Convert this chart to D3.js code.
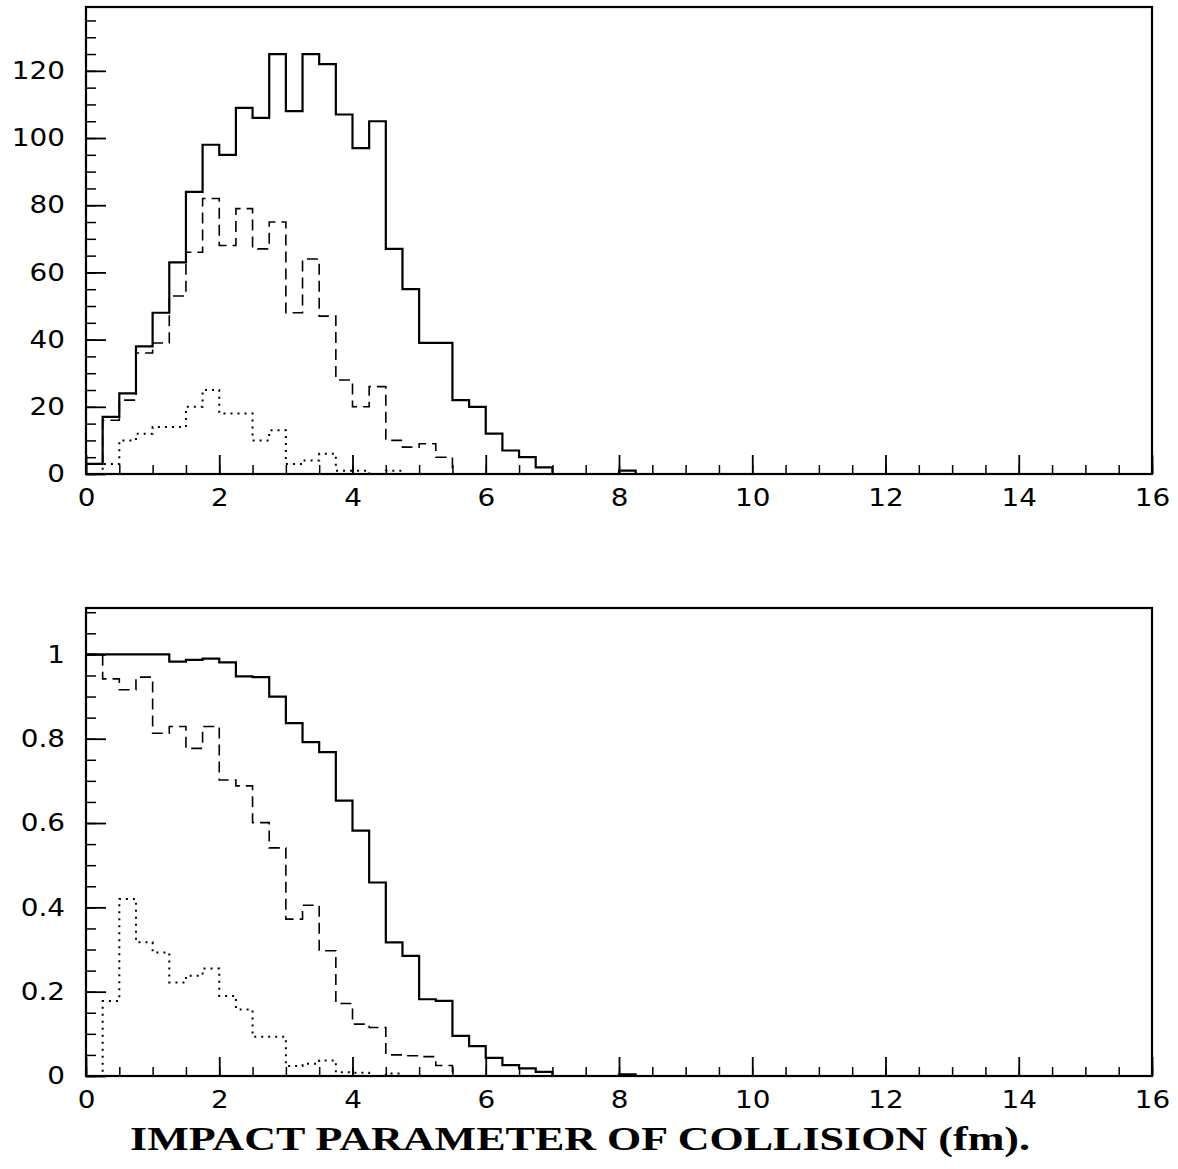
<!DOCTYPE html>
<html>
<head>
<meta charset="utf-8">
<script src="https://cdn.jsdelivr.net/npm/d3@7"></script>
<style>
  body { margin: 0; background: #fff; }
  svg { display: block; }
  .tick text { font-family: "DejaVu Sans", "Liberation Sans", sans-serif; font-size: 24px; fill: #000; }
</style>
</head>
<body>
<div id="chart"></div>
<script>
// histogram bins: 64 bins of 0.25 fm from 0 to 16
const binWidth = 0.25;

// top panel (counts)
const topSolid = [3, 17, 24, 38, 48, 63, 84, 98, 95, 109, 106, 125, 108, 125, 122, 107,
    97, 105, 67, 55, 39, 39, 22, 20, 12, 7, 5, 2, 0, 0, 0, 0,
    1, 0, 0, 0, 0, 0, 0, 0, 0, 0, 0, 0, 0, 0, 0, 0,
    0, 0, 0, 0, 0, 0, 0, 0, 0, 0, 0, 0, 0, 0, 0, 0];
const topDashed = [3, 16, 22, 36, 39, 53, 66, 82, 68, 79, 67, 75, 48, 64, 47, 28,
    20, 26, 10, 8, 9, 5, 0, 0, 0, 0, 0, 0, 0, 0, 0, 0,
    0, 0, 0, 0, 0, 0, 0, 0, 0, 0, 0, 0, 0, 0, 0, 0,
    0, 0, 0, 0, 0, 0, 0, 0, 0, 0, 0, 0, 0, 0, 0, 0];
const topDotted = [0, 3, 10, 12, 14, 14, 20, 25, 18, 18, 10, 13, 3, 4, 6, 1,
    1, 0, 1, 0, 0, 0, 0, 0, 0, 0, 0, 0, 0, 0, 0, 0,
    0, 0, 0, 0, 0, 0, 0, 0, 0, 0, 0, 0, 0, 0, 0, 0,
    0, 0, 0, 0, 0, 0, 0, 0, 0, 0, 0, 0, 0, 0, 0, 0];

// bottom panel (fractions)
const botSolid = [1, 1, 1, 1, 1, 0.983, 0.987, 0.99, 0.981, 0.948, 0.946, 0.90, 0.837, 0.792, 0.768, 0.653,
    0.582, 0.459, 0.317, 0.285, 0.182, 0.178, 0.095, 0.071, 0.043, 0.026, 0.018, 0.010, 0, 0, 0, 0,
    0.004, 0, 0, 0, 0, 0, 0, 0, 0, 0, 0, 0, 0, 0, 0, 0,
    0, 0, 0, 0, 0, 0, 0, 0, 0, 0, 0, 0, 0, 0, 0, 0];
const botDashed = [1, 0.942, 0.916, 0.946, 0.813, 0.829, 0.777, 0.829, 0.702, 0.688, 0.601, 0.541, 0.372, 0.405, 0.297, 0.172,
    0.123, 0.115, 0.050, 0.048, 0.046, 0.025, 0, 0, 0, 0, 0, 0, 0, 0, 0, 0,
    0, 0, 0, 0, 0, 0, 0, 0, 0, 0, 0, 0, 0, 0, 0, 0,
    0, 0, 0, 0, 0, 0, 0, 0, 0, 0, 0, 0, 0, 0, 0, 0];
const botDotted = [0, 0.178, 0.42, 0.317, 0.293, 0.222, 0.238, 0.255, 0.19, 0.158, 0.093, 0.093, 0.024, 0.029, 0.037, 0.009,
    0.008, 0, 0.006, 0, 0, 0, 0, 0, 0, 0, 0, 0, 0, 0, 0, 0,
    0, 0, 0, 0, 0, 0, 0, 0, 0, 0, 0, 0, 0, 0, 0, 0,
    0, 0, 0, 0, 0, 0, 0, 0, 0, 0, 0, 0, 0, 0, 0, 0];

const xTicks = [0, 2, 4, 6, 8, 10, 12, 14, 16];
const topYTicks = [0, 20, 40, 60, 80, 100, 120];
const botYTicks = [0, 0.2, 0.4, 0.6, 0.8, 1];
const xTitle = "IMPACT PARAMETER OF COLLISION (fm).";

const W = 1178, H = 1169;
const stretch = 1.16; // tick labels are drawn wide in the original

const svg = d3.select("#chart").append("svg")
    .attr("width", W)
    .attr("height", H);
svg.append("rect").attr("width", W).attr("height", H).attr("fill", "#fff");

const x = d3.scaleLinear().domain([0, 16]).range([86, 1152]);

const styles = {
    solid: { width: 2.2, dash: null },
    dashed: { width: 1.6, dash: "11,6" },
    dotted: { width: 2, dash: "2,5" }
};

function drawPanel(y, yTicks, yMinorStep, fmt, series) {
    const [y0, y1] = y.range();
    const g = svg.append("g");

    // minor ticks (inside the frame)
    const xMinor = d3.range(0, 16.001, 0.5);
    g.append("g")
        .attr("transform", `translate(0,${y0})`)
        .call(d3.axisBottom(x).tickValues(xMinor).tickSize(-9).tickFormat(""))
        .call(a => a.select(".domain").remove())
        .selectAll("line").attr("stroke-width", 1.5);

    const yMinor = d3.range(0, y.domain()[1] - 1e-9, yMinorStep);
    g.append("g")
        .attr("transform", `translate(${x.range()[0]},0)`)
        .call(d3.axisLeft(y).tickValues(yMinor).tickSize(-10).tickFormat(""))
        .call(a => a.select(".domain").remove())
        .selectAll("line").attr("stroke-width", 1.5);

    // major ticks with labels
    const xAx = g.append("g")
        .attr("transform", `translate(0,${y0})`)
        .call(d3.axisBottom(x).tickValues(xTicks).tickSize(-19).tickPadding(15).tickFormat(d3.format("d")))
        .call(a => a.select(".domain").remove());
    xAx.selectAll("line").attr("stroke-width", 1.8);
    xAx.selectAll("text").attr("transform", `scale(${stretch},1)`);

    const yAx = g.append("g")
        .attr("transform", `translate(${x.range()[0]},0)`)
        .call(d3.axisLeft(y).tickValues(yTicks).tickSize(-20).tickPadding(21).tickFormat(fmt))
        .call(a => a.select(".domain").remove());
    yAx.selectAll("line").attr("stroke-width", 1.8);
    yAx.selectAll("text")
        .attr("x", -21 / stretch)
        .attr("transform", `scale(${stretch},1)`);

    // histograms
    const line = d3.line()
        .x(d => x(d[0]))
        .y(d => y(d[1]))
        .curve(d3.curveStepAfter);

    series.forEach(s => {
        const pts = s.values.map((v, i) => [i * binWidth, v]);
        pts.push([s.values.length * binWidth, s.values[s.values.length - 1]]);
        g.append("path")
            .datum(pts)
            .attr("d", line)
            .attr("fill", "none")
            .attr("stroke", "#000")
            .attr("stroke-width", styles[s.style].width)
            .attr("stroke-dasharray", styles[s.style].dash);
    });

    // frame
    g.append("rect")
        .attr("x", x.range()[0])
        .attr("y", y1)
        .attr("width", x.range()[1] - x.range()[0])
        .attr("height", y0 - y1)
        .attr("fill", "none")
        .attr("stroke", "#000")
        .attr("stroke-width", 2.2);
}

const yTop = d3.scaleLinear().domain([0, 139]).range([474, 7]);
const yBot = d3.scaleLinear().domain([0, 1.11]).range([1076, 608]);

drawPanel(yTop, topYTicks, 5, d3.format("d"), [
    { values: topDotted, style: "dotted" },
    { values: topDashed, style: "dashed" },
    { values: topSolid, style: "solid" }
]);

drawPanel(yBot, botYTicks, 0.05, d => String(+d.toFixed(1)), [
    { values: botDotted, style: "dotted" },
    { values: botDashed, style: "dashed" },
    { values: botSolid, style: "solid" }
]);

svg.append("text")
    .attr("x", 580)
    .attr("y", 1150)
    .attr("text-anchor", "middle")
    .attr("font-family", "'Liberation Serif', 'DejaVu Serif', serif")
    .attr("font-weight", "bold")
    .attr("font-size", 34)
    .attr("textLength", 900)
    .attr("lengthAdjust", "spacingAndGlyphs")
    .text(xTitle);
</script>
</body>
</html>
